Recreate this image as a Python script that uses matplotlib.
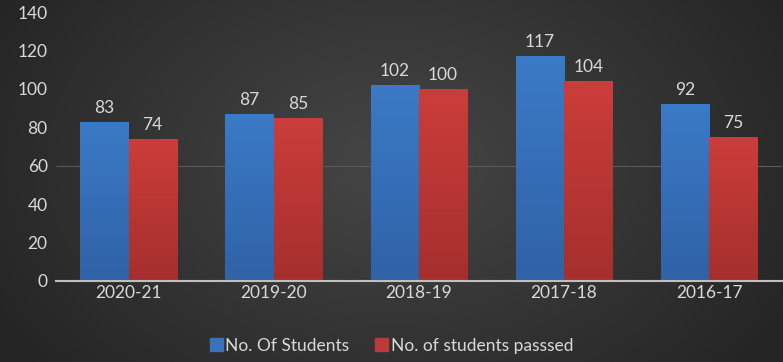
import numpy as np
import matplotlib
matplotlib.use("Agg")
import matplotlib.pyplot as plt
from matplotlib.patches import Patch

categories = ["2020-21", "2019-20", "2018-19", "2017-18", "2016-17"]
students = [83, 87, 102, 117, 92]
passed = [74, 85, 100, 104, 75]
series_names = ["No. Of Students", "No. of students passsed"]
yticks = [0, 20, 40, 60, 80, 100, 120, 140]

plt.rcParams['font.family'] = ['Lato', 'DejaVu Sans']
W, H = 783, 362
fig = plt.figure(figsize=(W/100, H/100), dpi=100)

# radial gradient background
bg = fig.add_axes([0, 0, 1, 1], zorder=-10)
yy, xx = np.mgrid[0:H, 0:W]
cx, cy = W*0.5, H*0.45
r = np.sqrt(((xx-cx)/(W*0.6))**2 + ((yy-cy)/(H*0.9))**2)
r = np.clip(r, 0, 1)
inner = np.array([0x46, 0x46, 0x46])/255
outer = np.array([0x24, 0x24, 0x24])/255
img = inner[None, None, :]*(1-r[..., None]) + outer[None, None, :]*r[..., None]
bg.imshow(img, aspect='auto', extent=[0, 1, 0, 1])
bg.axis('off')

ax = fig.add_axes([0.0715, 0.2238, 0.927, 0.743])
ax.patch.set_alpha(0)
x = np.arange(len(categories))
w = 0.333
tc = '#d9d9d9'
fs = 12.5

def hx(s):
    return [int(s[i:i+2], 16)/255 for i in (1, 3, 5)]

def grad_bars(xs, vals, top, bot):
    bars = ax.bar(xs, vals, w, color=top, zorder=3, linewidth=0)
    g = np.linspace(0, 1, 100)[:, None]
    cols = np.array(top)[None, None, :]*(1-g[..., None]) + np.array(bot)[None, None, :]*g[..., None]
    for b in bars:
        im = ax.imshow(cols, aspect='auto', zorder=4,
                       extent=[b.get_x(), b.get_x()+b.get_width(), 0, b.get_height()])
        im.set_clip_path(b)
    return bars

b1 = grad_bars(x - w/2, students, hx('#3b7ac6'), hx('#2f62a6'))
b2 = grad_bars(x + w/2, passed, hx('#cb3d3a'), hx('#a52f2d'))

for xs, vals in ((x - w/2, students), (x + w/2, passed)):
    for xi, v in zip(xs, vals):
        ax.text(xi, v + 3, str(v), ha='center', va='bottom', color=tc, fontsize=fs, zorder=5)

ax.set_xlim(-0.5, len(categories) - 0.5)
ax.set_ylim(0, 140)
ax.set_yticks(yticks)
ax.set_xticks(x)
ax.set_xticklabels(categories)
ax.tick_params(axis='both', colors=tc, labelsize=fs, length=0)
ax.tick_params(axis='y', pad=6)
ax.tick_params(axis='x', pad=3)
ax.axhline(60, color='#5a5a5a', lw=0.8, zorder=1)
for s in ['top', 'right', 'left']:
    ax.spines[s].set_visible(False)
ax.spines['bottom'].set_color('#bfbfbf')
ax.spines['bottom'].set_linewidth(1.5)
ax.spines['bottom'].set_zorder(6)

handles = [Patch(color='#3672bd'), Patch(color='#c0393a')]
fig.legend(handles, series_names, loc='center', bbox_to_anchor=(0.5, 0.045), ncol=2,
           frameon=False, fontsize=fs, labelcolor=tc, handlelength=0.75, handleheight=0.75,
           handletextpad=0.15, columnspacing=1.5)

fig.savefig('out.png', dpi=100)
